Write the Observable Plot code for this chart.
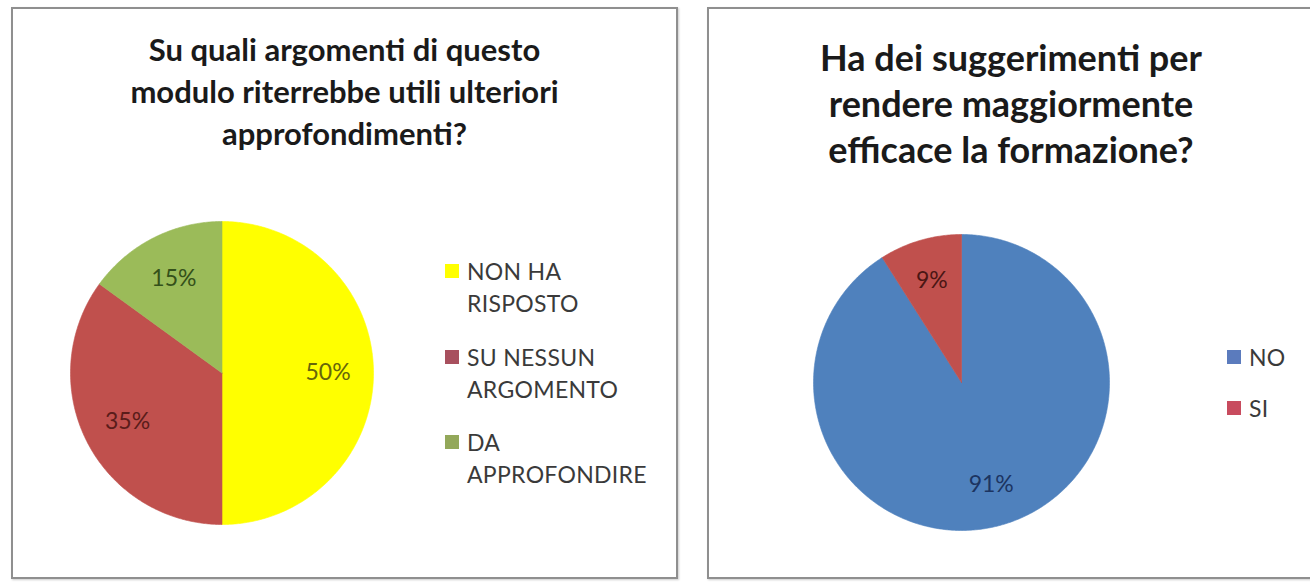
<!DOCTYPE html>
<html><head><meta charset="utf-8">
<script src="https://cdn.jsdelivr.net/npm/d3@7"></script>
<script src="https://cdn.jsdelivr.net/npm/@observablehq/plot@0.6"></script>
<style>
body{margin:0;background:#fff;width:1310px;height:585px;overflow:hidden;position:relative;font-family:Lato,"Open Sans",sans-serif;}
.panel{position:absolute;border:2px solid #8f8f8f;box-sizing:border-box;background:#fff;box-shadow:1px 1px 2px #ccc}
.title{position:absolute;text-align:center;font-weight:bold;color:#1a1a1a}
.abs{position:absolute}
.leg{position:absolute;color:#3a3a3a;font-size:23px;letter-spacing:0.3px;line-height:32px;white-space:nowrap}
.sw{position:absolute;width:14px;height:14px}
</style></head>
<body>
<div class="panel" style="left:11px;top:7px;width:667px;height:572px"></div>
<div class="panel" style="left:707px;top:7px;width:610px;height:572px"></div>
<script>
// ---- data: left chart ----
const leftTitle = ["Su quali argomenti di questo", "modulo  riterrebbe utili ulteriori", "approfondimenti?"];
const leftCategories = ["NON HA RISPOSTO", "SU NESSUN ARGOMENTO", "DA APPROFONDIRE"];
const leftLegendLines = [["NON HA", "RISPOSTO"], ["SU NESSUN", "ARGOMENTO"], ["DA", "APPROFONDIRE"]];
const leftValues = [50, 35, 15];
const leftColors = ["#ffff00", "#c0504d", "#9bbb59"];
const leftSwatchColors = ["#ffff00", "#a8505e", "#93a85a"];
const leftLabelColors = ["#66660a", "#5a1c1a", "#34501a"];

// ---- data: right chart ----
const rightTitle = ["Ha dei suggerimenti per", "rendere maggiormente", "efficace la formazione?"];
const rightCategories = ["NO", "SI"];
const rightValues = [91, 9];
const rightColors = ["#4f81bd", "#c0504d"];
const rightSwatchColors = ["#5b7bbd", "#c84b5e"];
const rightLabelColors = ["#1c3461", "#4a1614"];

function addTitle(lines, left, width, top, fontSize, lineHeight) {
  const d = document.createElement("div");
  d.className = "title";
  d.style.cssText = `left:${left}px;width:${width}px;top:${top}px;font-size:${fontSize}px;line-height:${lineHeight}px`;
  d.innerHTML = lines.map(l => l.replace(/ /g, "&nbsp;").replace(/&nbsp;(?=\S)/g, " ")).join("<br>");
  document.body.appendChild(d);
}

function pieChart(cats, vals, colors, labelColors, cx, cy, r, labelR) {
  const arcs = d3.pie().sort(null).value(d => d.v)(cats.map((c, i) => ({c, v: vals[i], i})));
  const pts = [];
  arcs.forEach(a => {
    pts.push({c: a.data.c, x: 0, y: 0});
    const n = Math.max(2, Math.ceil((a.endAngle - a.startAngle) / 0.01));
    for (let k = 0; k <= n; k++) {
      const t = a.startAngle + (a.endAngle - a.startAngle) * k / n;
      pts.push({c: a.data.c, x: Math.sin(t), y: Math.cos(t)});
    }
    pts.push({c: a.data.c, x: 0, y: 0});
  });
  const labels = arcs.map(a => {
    const m = (a.startAngle + a.endAngle) / 2;
    return {x: labelR * Math.sin(m), y: labelR * Math.cos(m), t: a.data.v + "%", col: labelColors[a.data.i]};
  });
  const m = 2;
  const svg = Plot.plot({
    width: 2 * r + 2 * m, height: 2 * r + 2 * m, margin: m,
    x: {domain: [-1, 1], axis: null},
    y: {domain: [-1, 1], axis: null},
    color: {domain: cats, range: colors},
    style: {background: "transparent", overflow: "visible"},
    marks: [
      Plot.line(pts, {x: "x", y: "y", z: "c", fill: "c", stroke: "c", strokeWidth: 0.6}),
      ...labels.map(l => Plot.text([l], {x: "x", y: "y", text: "t", fill: l.col, fontSize: 23, fontFamily: "Lato, sans-serif"}))
    ]
  });
  svg.classList.add("abs");
  svg.style.left = (cx - r - m) + "px";
  svg.style.top = (cy - r - m) + "px";
  document.body.appendChild(svg);
}

function legend(lines, swatches, x, ys) {
  lines.forEach((ls, i) => {
    const sw = document.createElement("div");
    sw.className = "sw";
    sw.style.cssText = `left:${x}px;top:${ys[i] - 7}px;background:${swatches[i]}`;
    document.body.appendChild(sw);
    const t = document.createElement("div");
    t.className = "leg";
    t.style.cssText = `left:${x + 22}px;top:${ys[i] - 16}px`;
    t.innerHTML = ls.join("<br>");
    document.body.appendChild(t);
  });
}

addTitle(leftTitle, 11, 667, 28, 31, 42);
addTitle(rightTitle, 707, 608, 34, 36, 46);
pieChart(leftCategories, leftValues, leftColors, leftLabelColors, 221.5, 372, 151.5, 0.7);
pieChart(rightCategories, rightValues, rightColors, rightLabelColors, 961, 382, 148, 0.72);
legend(leftLegendLines, leftSwatchColors, 445, [271, 357, 442]);
legend(rightCategories.map(c => [c]), rightSwatchColors, 1227, [357, 408]);
</script>
</body></html>
